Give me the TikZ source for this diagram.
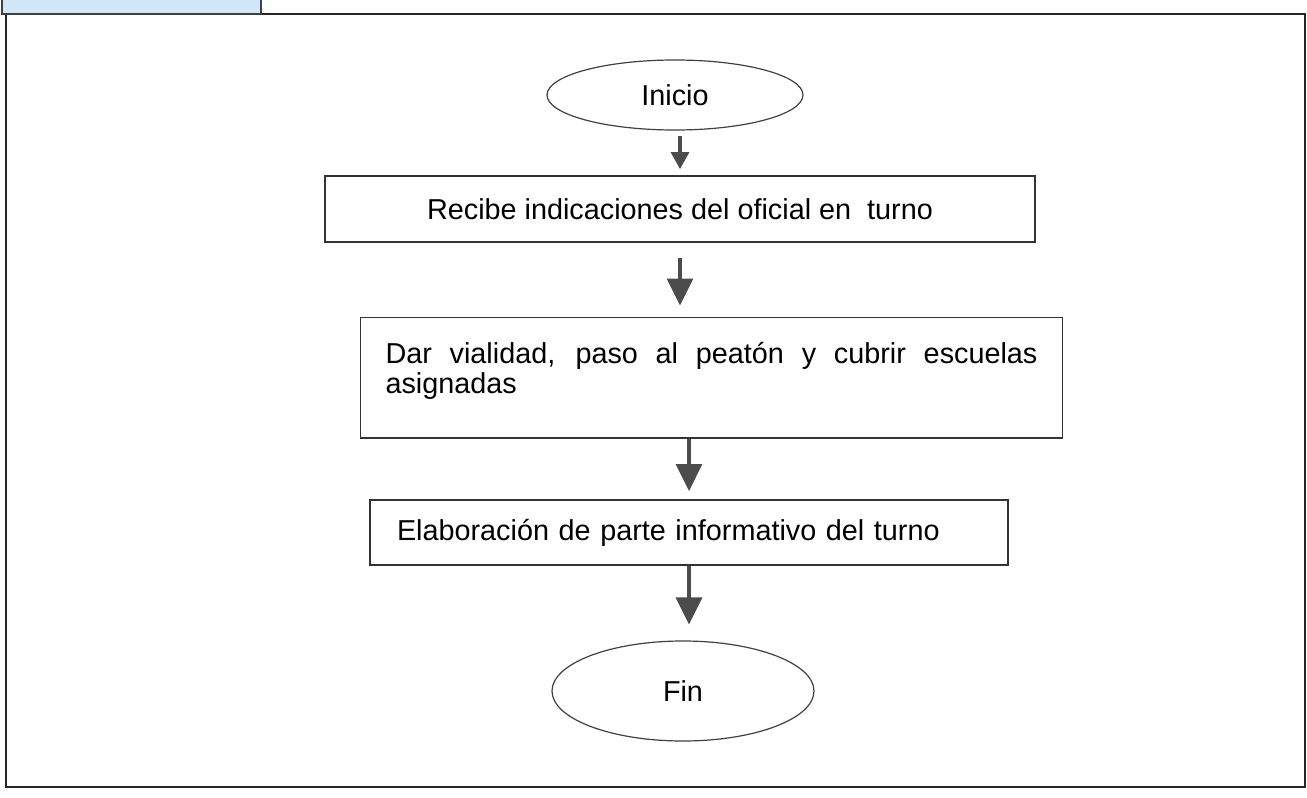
\documentclass[tikz,border=0pt]{standalone}
\usepackage{fontspec}
\setmainfont{Liberation Sans}
\usetikzlibrary{shapes.geometric,arrows.meta}
\definecolor{pestana}{HTML}{CFE7F9}

\begin{document}
\begin{tikzpicture}[x=0.5pt,y=-0.5pt,line width=0.9pt,>={Triangle[width=13pt,length=13.5pt]},
  every node/.style={font=\fontsize{14.4}{15}\selectfont},
  caja/.style={draw=black!80,rectangle,inner ysep=0pt},
  terminal/.style={draw=black!75,ellipse,line width=0.6pt,inner sep=0pt},
  flujo/.style={->,draw=black!70,line width=1.6pt}]
  \useasboundingbox (0,0) rectangle (1307,798);
  % marco y pestana
  \draw[line width=1pt,black!85] (6,14) rectangle (1305,787);
  \filldraw[fill=pestana,draw=black!75,line width=1pt] (2,-3) rectangle (261,14);
  % pasos
  \node[terminal,minimum width=128pt,minimum height=35pt] (inicio) at (675,95) {Inicio};
  \node[caja,minimum width=355pt,minimum height=33pt] (recibe) at (680,209) {Recibe indicaciones del oficial en\ \ turno};
  \node[caja,text width=326pt,inner xsep=12.5pt,inner ysep=12.5pt,text depth=24.5pt,align=justify] (dar) at (711.5,377.5)
    {\tolerance=10000 Dar vialidad, paso al peatón y cubrir escuelas \mbox{asignadas}};
  \node[caja,text width=292pt,inner xsep=13.5pt,minimum height=32.5pt,align=left] (elab) at (689,532.5) {Elaboración de parte informativo del turno};
  \node[terminal,minimum width=131pt,minimum height=50pt] (fin) at (683,691) {Fin};
  % flechas
  \draw[flujo,>={Triangle[width=9pt,length=8.5pt]},shorten <=2.5pt,shorten >=3pt] (inicio.south -| recibe.north) -- (recibe.north);
  \draw[flujo,shorten <=7.5pt,shorten >=5.5pt] (recibe.south) -- (recibe.south |- dar.north);
  \draw[flujo,shorten >=4pt] (dar.south -| elab.north) -- (elab.north);
  \draw[flujo,shorten >=8pt] (elab.south) -- (elab.south |- fin.north);
\end{tikzpicture}
\end{document}
